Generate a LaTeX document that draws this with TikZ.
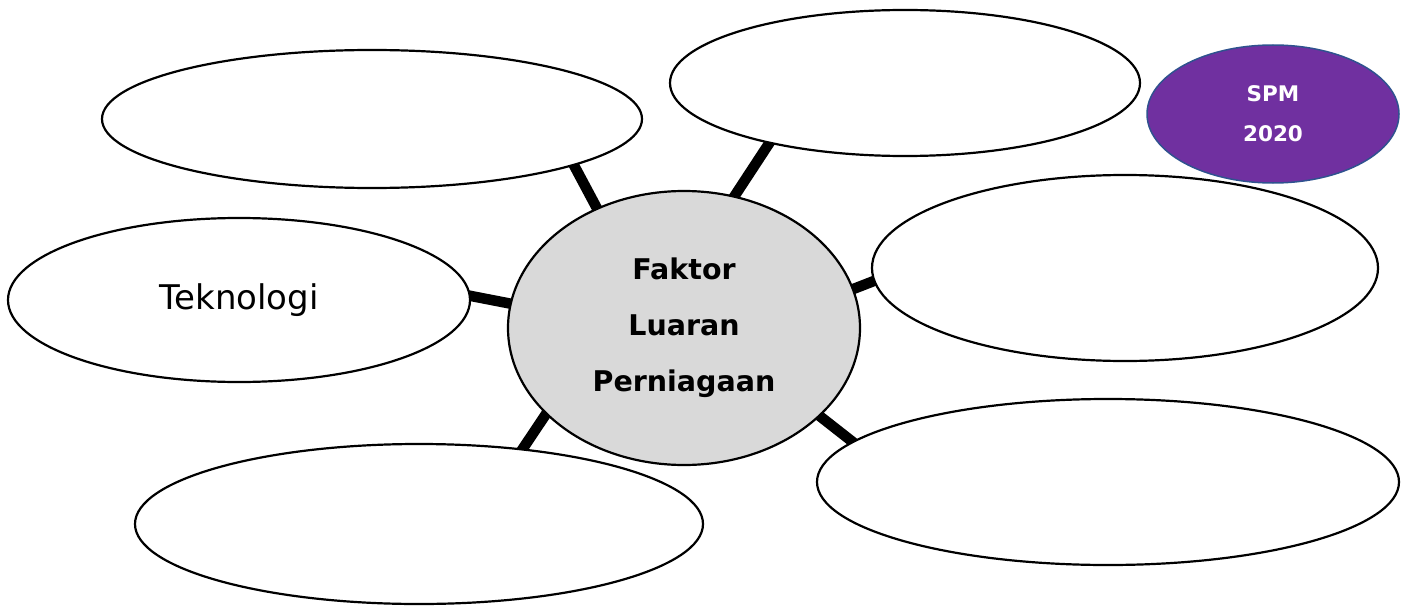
\documentclass[tikz,border=0pt]{standalone}
\usepackage{fontspec}
\setmainfont{DejaVu Sans}
\usetikzlibrary{shapes.geometric,backgrounds}
\definecolor{spmpurple}{HTML}{7030A0}
\definecolor{spmblue}{HTML}{2F528F}
\definecolor{hubgrey}{HTML}{D9D9D9}
\tikzset{
  bubble/.style={ellipse, draw=black, line width=2.2pt, fill=white, inner sep=0pt},
  hub/.style={ellipse, draw=black, line width=2.2pt, fill=hubgrey, inner sep=0pt,
    font=\fontsize{28.5}{56}\selectfont\bfseries, align=center},
  badge/.style={ellipse, draw=spmblue, line width=1.5pt, fill=spmpurple, inner sep=0pt,
    text=white, font=\fontsize{21.5}{40}\selectfont\bfseries, align=center},
  spoke/.style={line width=10.5pt, black, shorten <=-10pt, shorten >=-10pt}
}
\begin{document}
\begin{tikzpicture}[x=1pt,y=-1pt]
\useasboundingbox (0,0) rectangle (1410,607);
\node[hub, minimum width=352pt, minimum height=274pt] (c) at (684,328)
  {Faktor\\Luaran\\Perniagaan};
\node[bubble, minimum width=540pt, minimum height=138pt] (tl) at (372,119) {};
\node[bubble, minimum width=470pt, minimum height=146pt] (tm) at (905,83) {};
\node[badge, minimum width=252pt, minimum height=138pt] (spm) at (1273,114) {SPM\\2020};
\node[bubble, minimum width=462pt, minimum height=164pt,
  font=\fontsize{34}{40}\selectfont] (tk) at (239,300) {Teknologi};
\node[bubble, minimum width=506pt, minimum height=186pt] (rm) at (1125,268) {};
\node[bubble, minimum width=568pt, minimum height=160pt] (bl) at (419,524) {};
\node[bubble, minimum width=582pt, minimum height=166pt] (br) at (1108,482) {};
\begin{pgfonlayer}{background}
\draw[spoke] (c.126) -- (tl.-13);
\draw[spoke] (c.69) -- (tm.-156);
\draw[spoke] (c.13) -- (rm.183);
\draw[spoke] (c.172) -- (tk.1);
\draw[spoke] (c.212) -- (bl.36);
\draw[spoke] (c.-33) -- (br.171);
\end{pgfonlayer}
\end{tikzpicture}
\end{document}
